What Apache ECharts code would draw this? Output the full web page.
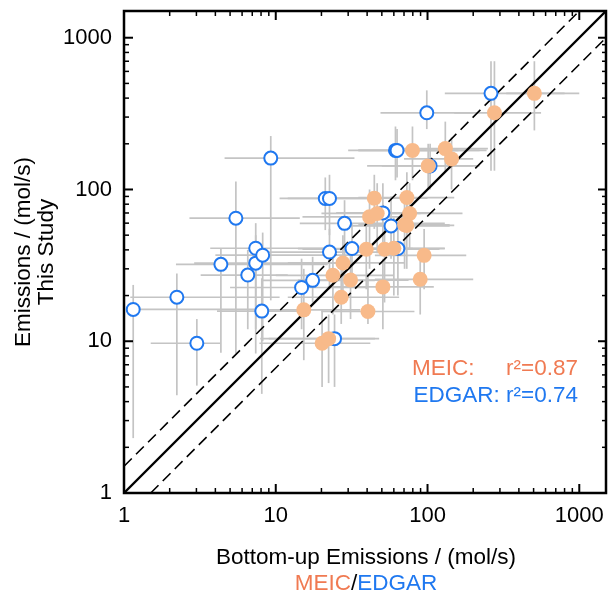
<!DOCTYPE html>
<html>
<head>
<meta charset="utf-8" />
<title>Emissions scatter</title>
<script src="https://cdn.jsdelivr.net/npm/echarts@6.0.0/dist/echarts.min.js"></script>
<style>
  html, body { margin: 0; padding: 0; background: #fff; }
  #main { width: 609px; height: 596px; }
</style>
</head>
<body>
<div id="main"></div>
<script>
// ---- data (mol/s) ----
var axisMin = 1, axisMax = 1500;
var majorTicks = [1, 10, 100, 1000];
var minorTicks = [2, 3, 4, 5, 6, 7, 8, 9, 20, 30, 40, 50, 60, 70, 80, 90, 200, 300, 400, 500, 600, 700, 800, 900];

// EDGAR (bottom-up) vs this study
var edgarX    = [1.15, 2.23, 3.02, 4.35, 5.46, 6.54, 7.38, 7.38, 8.2, 9.27, 8.09, 14.8, 17.5, 21.2, 22.6, 22.6, 28.4, 98.9, 61.5, 63, 104, 50.8, 57.5, 31.8, 63.8, 24.4, 262];
var edgarY    = [16.2, 19.5, 9.7, 32.1, 64.7, 27.3, 41, 32.7, 36.9, 161, 15.8, 22.6, 25.2, 87.3, 87.3, 38.7, 59.8, 320, 181, 181, 143, 70.1, 57.5, 40.8, 40.8, 10.4, 430];
var edgarXLo  = [1.05, 1.1, 1.5, 2.2, 2.7, 3.2, 3.7, 2.9, 4, 4.6, 4.1, 5, 8, 10.6, 12, 8, 14.4, 49, 30, 35, 50, 25, 28, 14, 35, 7.9, 130];
var edgarXHi  = [9, 10.6, 4.3, 22, 14.4, 12, 22, 30, 36, 33, 14.4, 40, 45, 45, 50, 60, 130, 200, 245, 220, 200, 110, 140, 80, 130, 48, 1000];
var edgarYLo  = [2.3, 4.4, 5.1, 8.4, 8.3, 12, 8.3, 12, 10, 18.6, 4.5, 12, 18, 54, 50, 22, 31, 250, 115, 120, 100, 45, 35, 25, 20, 5, 133];
var edgarYHi  = [23.5, 28, 14, 41, 113, 40, 60, 50, 52, 225, 26, 35, 36, 120, 125, 55, 85, 450, 260, 250, 200, 110, 90, 60, 60, 15, 700];

// MEIC (bottom-up) vs this study
var meicX     = [506, 276, 79.6, 131, 144, 101, 44.6, 73.1, 76.2, 41.5, 46.6, 70.6, 73, 39.5, 52.1, 60, 95, 27.7, 23.8, 31.1, 50.8, 89.5, 27, 40.5, 15.3, 20.2, 22.3];
var meicY     = [430, 320, 181, 186, 159, 143, 87.7, 88.5, 69.5, 66, 69.5, 58.5, 58, 40.4, 40.4, 41, 36.8, 32.8, 27.2, 25.3, 22.8, 25.6, 19.5, 15.7, 16.1, 9.7, 10.4];
var meicXLo   = [330, 150, 35, 60, 70, 40, 20, 35, 40, 15, 20, 35, 40, 15, 22, 28, 45, 12, 10, 14, 22, 45, 12, 20, 8, 7.8, 9];
var meicXHi   = [800, 560, 160, 250, 200, 220, 100, 150, 170, 80, 90, 140, 150, 90, 120, 130, 180, 70, 60, 75, 110, 200, 65, 82, 36, 42, 45];
var meicYLo   = [245, 133, 115, 130, 100, 100, 55, 50, 40, 30, 38, 30, 30, 22, 18, 20, 22, 18, 15, 14, 12, 15, 13, 13, 7.5, 5, 5.3];
var meicYHi   = [700, 700, 260, 280, 220, 200, 125, 130, 110, 100, 110, 90, 85, 60, 60, 65, 55, 50, 40, 38, 35, 35, 30, 28, 30, 16, 15];

// reference lines: 1:1 and 1.5 / (1/1.5)
var lineOne   = [[1, 1], [1500, 1500]];
var lineUpper = [[1, 1.5], [1000, 1500]];
var lineLower = [[1.5, 1], [1500, 1000]];

var MEIC_FILL = '#F8BA8A';
var MEIC_TEXT = '#F07A52';
var EDGAR_BLUE = '#1F78F0';
var BAR_GRAY = '#C4C4C4';
var FONT = '"Liberation Sans", Arial, sans-serif';
var FS = 22;
var GRID = { left: 124, right: 2, top: 11, bottom: 103 };

function rows(x, y, xlo, xhi, ylo, yhi) {
  var out = [];
  for (var i = 0; i < x.length; i++) out.push([x[i], y[i], xlo[i], xhi[i], ylo[i], yhi[i]]);
  return out;
}
function pairs(x, y) {
  var out = [];
  for (var i = 0; i < x.length; i++) out.push([x[i], y[i]]);
  return out;
}

function renderErr(params, api) {
  var x = api.value(0), y = api.value(1);
  var l = api.coord([api.value(2), y]), r = api.coord([api.value(3), y]);
  var t = api.coord([x, api.value(5)]), b = api.coord([x, api.value(4)]);
  var st = { stroke: BAR_GRAY, lineWidth: 1.7 };
  return {
    type: 'group',
    children: [
      { type: 'line', shape: { x1: l[0], y1: l[1], x2: r[0], y2: r[1] }, style: st },
      { type: 'line', shape: { x1: t[0], y1: t[1], x2: b[0], y2: b[1] }, style: st }
    ]
  };
}

function isMajor(v) {
  for (var i = 0; i < majorTicks.length; i++) {
    if (Math.abs(v - majorTicks[i]) < 1e-6 * majorTicks[i]) return true;
  }
  return false;
}

function txt(x, y, text, fill, align, rot) {
  return {
    type: 'text', x: x, y: y, rotation: rot || 0, z: 10,
    style: { text: text, font: '22.5px ' + FONT, fill: fill,
             align: align, verticalAlign: 'middle', textAlign: align, textVerticalAlign: 'middle' }
  };
}

var chart = echarts.init(document.getElementById('main'));
chart.setOption({
  animation: false,
  backgroundColor: '#fff',
  grid: {
    left: GRID.left, right: GRID.right, top: GRID.top, bottom: GRID.bottom,
    show: true, borderColor: '#000', borderWidth: 2.5
  },
  xAxis: {
    type: 'log', min: axisMin, max: axisMax,
    axisLine: { show: false }, axisTick: { show: false }, splitLine: { show: false },
    axisLabel: {
      interval: 0, margin: 12, fontSize: FS, color: '#000', fontFamily: FONT,
      formatter: function (v) { return isMajor(v) ? String(Math.round(v)) : ''; }
    }
  },
  yAxis: {
    type: 'log', min: axisMin, max: axisMax,
    axisLine: { show: false }, axisTick: { show: false }, splitLine: { show: false },
    axisLabel: {
      interval: 0, margin: 12, fontSize: FS, color: '#000', fontFamily: FONT,
      formatter: function (v) { return isMajor(v) ? String(Math.round(v)) : ''; }
    }
  },
  series: [
    {
      type: 'custom', name: 'EDGAR err', z: 1, silent: true,
      renderItem: renderErr, encode: { x: 0, y: 1 },
      data: rows(edgarX, edgarY, edgarXLo, edgarXHi, edgarYLo, edgarYHi)
    },
    {
      type: 'custom', name: 'MEIC err', z: 1, silent: true,
      renderItem: renderErr, encode: { x: 0, y: 1 },
      data: rows(meicX, meicY, meicXLo, meicXHi, meicYLo, meicYHi)
    },
    {
      type: 'line', z: 2, silent: true, symbol: 'none', data: lineOne,
      lineStyle: { color: '#000', width: 2.4 }
    },
    {
      type: 'line', z: 2, silent: true, symbol: 'none', data: lineUpper,
      lineStyle: { color: '#000', width: 1.6, type: [11, 6] }
    },
    {
      type: 'line', z: 2, silent: true, symbol: 'none', data: lineLower,
      lineStyle: { color: '#000', width: 1.6, type: [11, 6] }
    },
    {
      type: 'scatter', name: 'EDGAR', z: 3, symbol: 'circle', symbolSize: 13,
      itemStyle: { color: '#fff', borderColor: EDGAR_BLUE, borderWidth: 2, opacity: 1 },
      emphasis: { disabled: true },
      data: pairs(edgarX, edgarY)
    },
    {
      type: 'scatter', name: 'MEIC', z: 4, symbol: 'circle', symbolSize: 15,
      itemStyle: { color: MEIC_FILL, opacity: 1 },
      emphasis: { disabled: true },
      data: pairs(meicX, meicY)
    }
  ]
});

var graphics = [
  txt(366, 558, 'Bottom-up Emissions / (mol/s)', '#000', 'center'),
  {
    type: 'text', x: 366, y: 584, z: 10,
    style: {
      text: '{a|MEIC}{b|/}{c|EDGAR}', font: '22.5px ' + FONT,
      align: 'center', verticalAlign: 'middle', textAlign: 'center', textVerticalAlign: 'middle',
      rich: {
        a: { fill: MEIC_TEXT, color: MEIC_TEXT, font: '22.5px ' + FONT },
        b: { fill: '#000', color: '#000', font: '22.5px ' + FONT },
        c: { fill: EDGAR_BLUE, color: EDGAR_BLUE, font: '22.5px ' + FONT }
      }
    }
  },
  txt(24, 252, 'Emissions / (mol/s)', '#000', 'center', Math.PI / 2),
  txt(47, 252, 'This Study', '#000', 'center', Math.PI / 2),
  txt(412, 369, 'MEIC:', MEIC_TEXT, 'left'),
  txt(578, 369, 'r\u00b2=0.87', MEIC_TEXT, 'right'),
  txt(578, 396, 'EDGAR: r\u00b2=0.74', EDGAR_BLUE, 'right')
];

// inside ticks on all four sides; positions along each axis come from the axis scale,
// the frame edges from the grid rectangle
var W = chart.getWidth(), H = chart.getHeight();
var x0 = GRID.left, x1 = W - GRID.right, y0 = GRID.top, y1 = H - GRID.bottom;
function addTicks(vals, len, w) {
  var st = { stroke: '#000', lineWidth: w };
  vals.forEach(function (v) {
    var px = chart.convertToPixel({ gridIndex: 0 }, [v, 10]);
    var py = chart.convertToPixel({ gridIndex: 0 }, [10, v]);
    if (px && isFinite(px[0]) && px[0] > x0 + 1) {
      graphics.push({ type: 'line', z: 9, silent: true, shape: { x1: px[0], y1: y1, x2: px[0], y2: y1 - len }, style: st });
      graphics.push({ type: 'line', z: 9, silent: true, shape: { x1: px[0], y1: y0, x2: px[0], y2: y0 + len }, style: st });
    }
    if (py && isFinite(py[1]) && py[1] < y1 - 1) {
      graphics.push({ type: 'line', z: 9, silent: true, shape: { x1: x0, y1: py[1], x2: x0 + len, y2: py[1] }, style: st });
      graphics.push({ type: 'line', z: 9, silent: true, shape: { x1: x1, y1: py[1], x2: x1 - len, y2: py[1] }, style: st });
    }
  });
}
addTicks(majorTicks, 9, 2);
addTicks(minorTicks, 5, 1.5);

chart.setOption({ graphic: graphics });
</script>
</body>
</html>
